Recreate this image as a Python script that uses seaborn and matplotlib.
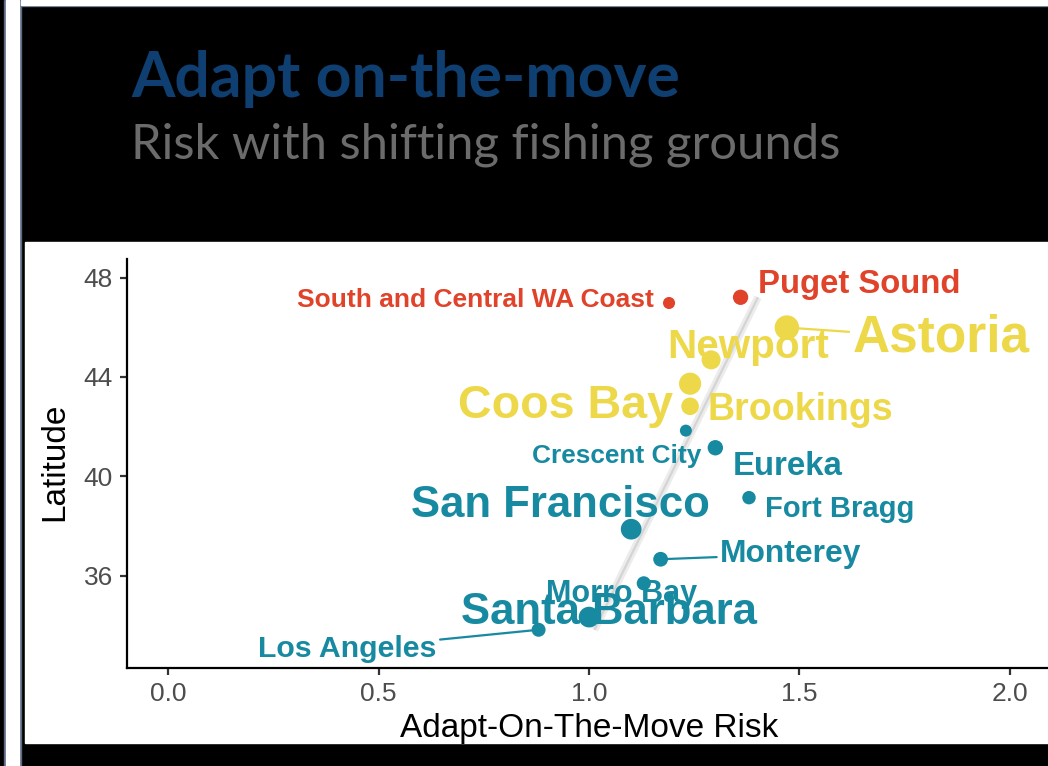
#!/usr/bin/env python
# adapt on-the-move risk vs latitude
import numpy as np
import pandas as pd
import seaborn as sns
import matplotlib.pyplot as plt
from matplotlib.patches import Rectangle

ports = ['South and Central WA Coast', 'Puget Sound', 'Astoria', 'Newport',
         'Coos Bay', 'Brookings', 'Crescent City', 'Eureka', 'Fort Bragg',
         'San Francisco', 'Monterey', 'Morro Bay', 'Santa Barbara', 'Los Angeles']
state = ['WA', 'WA', 'OR', 'OR', 'OR', 'OR', 'CA', 'CA', 'CA',
         'CA', 'CA', 'CA', 'CA', 'CA']
risk = [1.19, 1.36, 1.47, 1.29, 1.24, 1.24, 1.23, 1.30, 1.38,
        1.10, 1.17, 1.13, 1.00, 0.88]
latitude = [46.98, 47.21, 45.99, 44.69, 43.73, 42.82, 41.84, 41.15, 39.14,
            37.87, 36.66, 35.69, 34.33, 33.82]
port_size = [19, 23.7, 37, 29.1, 33.6, 27, 18.9, 23.8, 21, 31.5, 22.9, 22, 31.5, 21.8]

df = pd.DataFrame({'port': ports, 'state': state, 'risk': risk,
                   'lat': latitude, 'size': port_size})

colors = {'WA': '#E0422A', 'OR': '#EDD84A', 'CA': '#178AA1'}

# label offsets from the point, in pixels (dx right, dy down), and which get a leader line
label_off = {
    'South and Central WA Coast': (-194, 4),
    'Puget Sound': (119, -4),
    'Astoria': (154, 24),
    'Newport': (37, -2),
    'Coos Bay': (-125, 34),
    'Brookings': (110, 14),
    'Crescent City': (-69, 32),
    'Eureka': (72, 27),
    'Fort Bragg': (91, 19),
    'San Francisco': (-71, -12),
    'Monterey': (130, 3),
    'Morro Bay': (-22, 19),
    'Santa Barbara': (20, 7),
    'Los Angeles': (-191, 27),
}
leaders = ['Astoria', 'Monterey', 'Los Angeles']

sns.set_theme(style='white')
plt.rcParams['font.family'] = ['Liberation Sans', 'DejaVu Sans']

W, H = 1048, 766
fig = plt.figure(figsize=(W / 100, H / 100), dpi=100, facecolor='black')

# slide frame
def px_rect(x0, y0, x1, y1, color):
    fig.patches.append(Rectangle((x0 / W, 1 - y1 / H), (x1 - x0) / W, (y1 - y0) / H,
                                 transform=fig.transFigure, color=color, zorder=-5))

px_rect(4, 0, 21, H, '#5b6a80')
px_rect(5.5, 0, 19, H, 'white')
px_rect(21, 0, W, 5.5, '#5b6a80')
px_rect(21, 0, W, 4.5, 'white')
px_rect(25, 242, W, 742.5, 'white')

ax = fig.add_axes([127 / W, (H - 668) / H, (W - 127) / W, (668 - 259.3) / H])
ax.set_facecolor('none')
ax.set_zorder(2)

# fitted trend (weighted by port size), drawn underneath
coef = np.polyfit(df['lat'], df['risk'], 1, w=df['size'])
lat_line = np.array([df['lat'].min(), df['lat'].max()])
ax.plot(np.polyval(coef, lat_line), lat_line, color='#ececec', lw=5.5,
        solid_capstyle='butt', zorder=1)
ax.plot(np.polyval(coef, lat_line), lat_line, color='#d4d4d4', lw=1.6,
        solid_capstyle='butt', zorder=1)

smin, smax = min(port_size), max(port_size)
diam = {s: np.interp(s, [smin, smax], [12, 24.5]) * 0.72 for s in port_size}
sns.scatterplot(data=df, x='risk', y='lat', hue='state', palette=colors,
                size='size', sizes={s: d ** 2 for s, d in diam.items()},
                linewidth=0, legend=False, ax=ax, zorder=3)

for _, r in df.iterrows():
    dx, dy = label_off[r['port']]
    fs = np.interp(r['size'], [smin, smax], [smin, smax])
    c = colors[r['state']]
    arrow = None
    if r['port'] in leaders:
        arrow = dict(arrowstyle='-', color=c, lw=1.6, shrinkA=0, shrinkB=0)
    ax.annotate(r['port'], (r['risk'], r['lat']), xytext=(dx * 0.72, -dy * 0.72),
                textcoords='offset points', ha='center', va='baseline',
                fontsize=fs, fontweight='bold', color=c, arrowprops=arrow, zorder=2)

ax.set_xlim(-0.098, 2.0905)
ax.set_ylim(32.28, 48.74)
ax.set_xticks([0.0, 0.5, 1.0, 1.5, 2.0])
ax.set_xticklabels(['0.0', '0.5', '1.0', '1.5', '2.0'])
ax.set_yticks([36, 40, 44, 48])
for side in ['top', 'right']:
    ax.spines[side].set_visible(False)
for side in ['left', 'bottom']:
    ax.spines[side].set_color('black')
    ax.spines[side].set_linewidth(1.6)
ax.tick_params(axis='both', which='major', length=5, width=1.6, color='#333333',
               labelsize=19, labelcolor='#4d4d4d', pad=5, left=True, bottom=True)

ax.set_xlabel('Adapt-On-The-Move Risk', fontsize=24, color='black')
ax.set_ylabel('Latitude', fontsize=24, color='black')
ax.xaxis.set_label_coords((589.5 - 127) / (W - 127), -(713 - 668) / (668 - 259.3))
ax.yaxis.set_label_coords((70 - 127) / (W - 127), (668 - 461.5) / (668 - 259.3))

fig.text(131 / W, 1 - 97 / H, 'Adapt on-the-move', fontsize=45, fontweight='bold',
         color='#0E3F70', family=['Lato', 'DejaVu Sans'], va='baseline', ha='left')
fig.text(131 / W, 1 - 158.5 / H, 'Risk with shifting fishing grounds', fontsize=35.3,
         color='#6b6b6b', family=['Lato', 'DejaVu Sans'], va='baseline', ha='left')

fig.savefig('out.png', dpi=100, facecolor='black')
